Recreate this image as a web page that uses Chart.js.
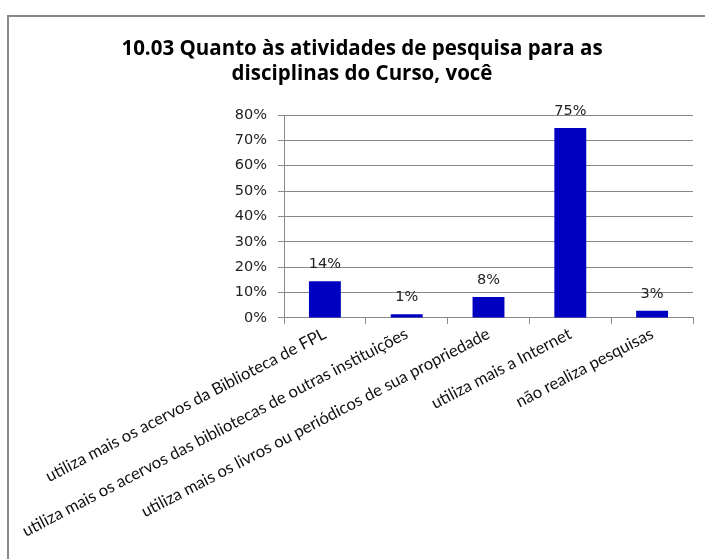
<!DOCTYPE html>
<html>
<head>
<meta charset="utf-8">
<script src="https://cdn.jsdelivr.net/npm/chart.js@4/dist/chart.umd.min.js"></script>
<style>
  html, body { margin: 0; padding: 0; background: #fff; overflow: hidden; }
  #frame {
    position: absolute; left: 7px; top: 15px; width: 720px; height: 560px;
    border-left: 2px solid #888; border-top: 2px solid #888; background: #fff;
  }
  #wrap { position: absolute; left: 0; top: 0; width: 706px; height: 544px; }
</style>
</head>
<body>
<div id="frame">
  <div id="wrap"><canvas id="chart"></canvas></div>
</div>
<script>
const categories = [
  'utiliza mais os acervos da Biblioteca de FPL',
  'utiliza mais os acervos das bibliotecas de outras instituições',
  'utiliza mais os livros ou periódicos de sua propriedade',
  'utiliza mais a Internet',
  'não realiza pesquisas'
];
const percentages = [14.4, 1.4, 8.2, 74.9, 2.8];
const titleLines = ['10.03 Quanto às atividades de pesquisa para as', 'disciplinas do Curso, você'];

// draws the "14%" style labels above each bar
const barValueLabels = {
  id: 'barValueLabels',
  afterDatasetsDraw(chart) {
    const ctx = chart.ctx;
    const meta = chart.getDatasetMeta(0);
    ctx.save();
    ctx.font = '14.5px "DejaVu Sans"';
    ctx.fillStyle = '#222';
    ctx.textAlign = 'center';
    ctx.textBaseline = 'alphabetic';
    meta.data.forEach(function (bar, i) {
      ctx.fillText(Math.round(percentages[i]) + '%', bar.x, bar.y - 13);
    });
    ctx.restore();
  }
};

const ctx = document.getElementById('chart').getContext('2d');
const chart = new Chart(ctx, {
  type: 'bar',
  data: {
    labels: categories,
    datasets: [{
      data: percentages,
      backgroundColor: '#0000C0',
      borderWidth: 0,
      categoryPercentage: 1,
      barPercentage: 0.39
    }]
  },
  options: {
    responsive: true,
    maintainAspectRatio: false,
    animation: false,
    layout: { padding: { top: 20, right: 22, bottom: 20, left: 22 } },
    plugins: {
      legend: { display: false },
      tooltip: { enabled: false },
      title: {
        display: true,
        text: titleLines,
        color: '#000',
        font: { family: '"Open Sans"', size: 20.5, weight: 'bold', lineHeight: 1.22 },
        padding: { top: 0, bottom: 28 }
      }
    },
    scales: {
      x: {
        grid: { display: true, drawOnChartArea: false, color: '#888', tickLength: 6, offset: true },
        border: { color: '#888' },
        ticks: {
          color: '#111',
          font: { family: 'Lato', size: 16.6 },
          minRotation: 27.5,
          maxRotation: 27.5,
          autoSkip: false,
          padding: 0
        }
      },
      y: {
        min: 0,
        max: 80,
        grid: { color: '#888', tickLength: 6 },
        border: { color: '#888' },
        afterFit: function (scale) { scale.width = 253; },
        ticks: {
          stepSize: 10,
          color: '#222',
          font: { family: '"DejaVu Sans"', size: 14.5 },
          padding: 11,
          callback: function (v) { return v + '%'; }
        }
      }
    }
  },
  plugins: [barValueLabels]
});
</script>
</body>
</html>
